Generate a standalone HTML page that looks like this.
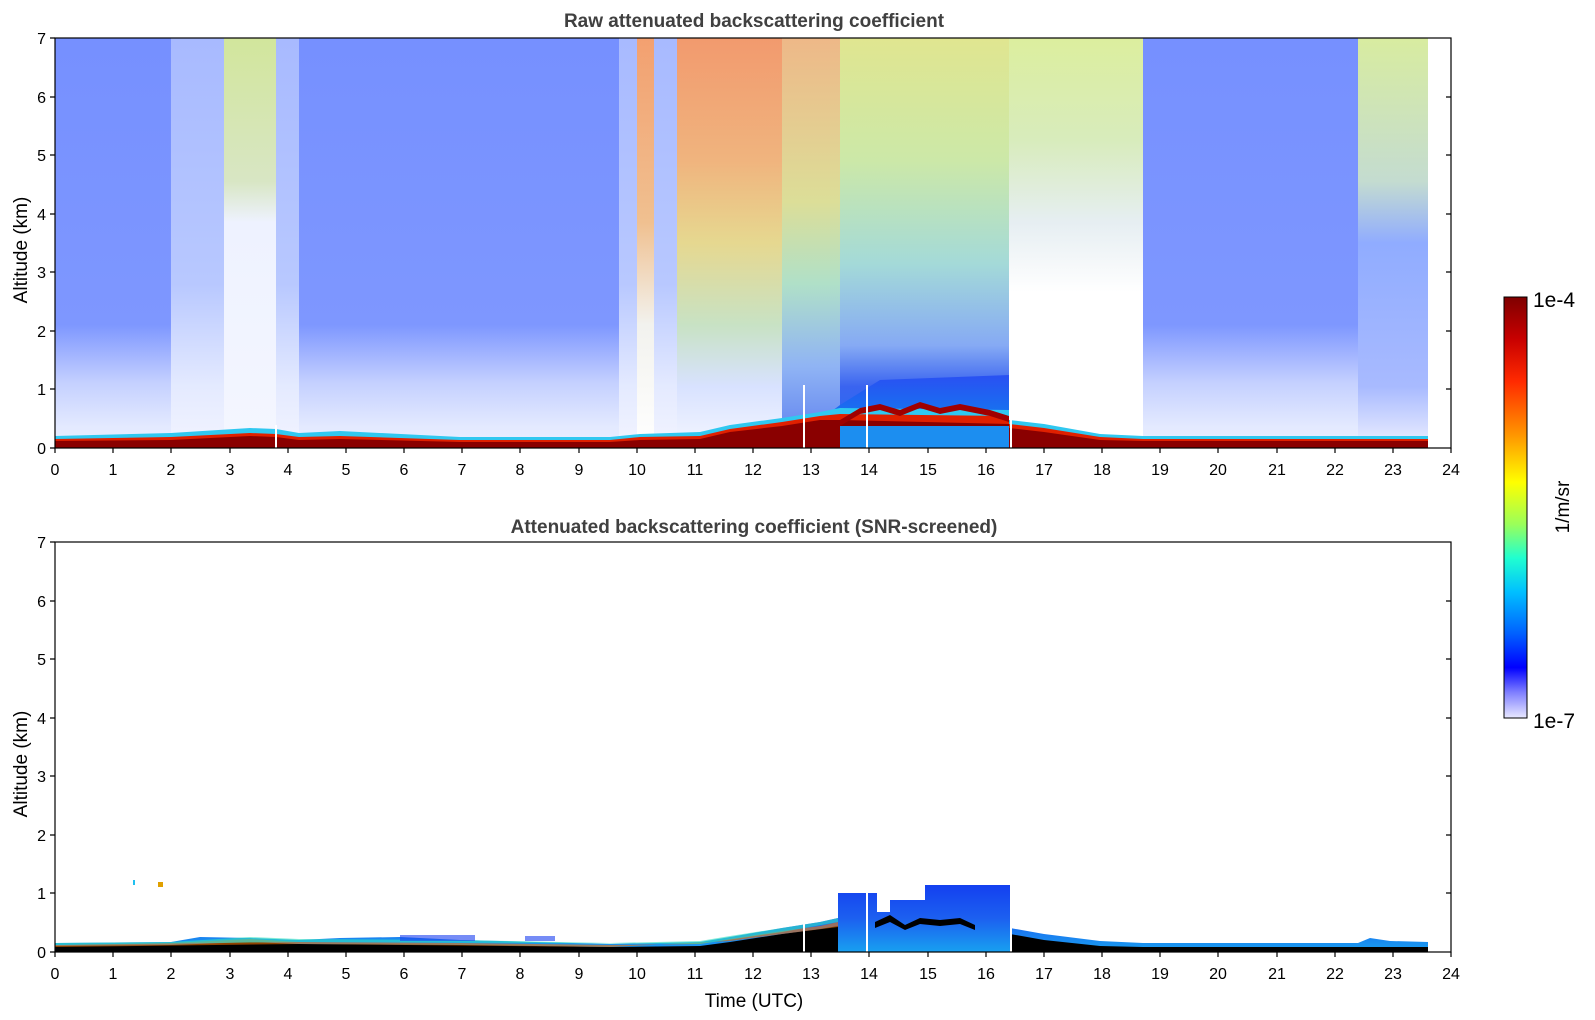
<!DOCTYPE html>
<html><head><meta charset="utf-8"><style>
html,body{margin:0;padding:0;background:#fff;}
svg{display:block;font-family:"Liberation Sans","DejaVu Sans",sans-serif;}
</style></head><body>
<svg width="1595" height="1020" viewBox="0 0 1595 1020" xmlns="http://www.w3.org/2000/svg">
<defs>
<linearGradient id="gBlue" x1="0" y1="0" x2="0" y2="1">
<stop offset="0" stop-color="#7690ff"/><stop offset="0.7" stop-color="#7e97ff"/><stop offset="0.84" stop-color="#c4d0ff"/><stop offset="0.95" stop-color="#e4eaff"/><stop offset="1" stop-color="#e8eeff"/></linearGradient>
<linearGradient id="gBlueL" x1="0" y1="0" x2="0" y2="1">
<stop offset="0" stop-color="#a8baff"/><stop offset="0.6" stop-color="#b8c8ff"/><stop offset="0.85" stop-color="#e4eaff"/><stop offset="1" stop-color="#f2f4ff"/></linearGradient>
<linearGradient id="g3" x1="0" y1="0" x2="0" y2="1">
<stop offset="0" stop-color="#d2e69c"/><stop offset="0.35" stop-color="#d8e6c4"/><stop offset="0.45" stop-color="#eef2ff"/><stop offset="1" stop-color="#f4f6ff"/></linearGradient>
<linearGradient id="gR1" x1="0" y1="0" x2="0" y2="1">
<stop offset="0" stop-color="#f3a070"/><stop offset="0.45" stop-color="#f0c090"/><stop offset="0.7" stop-color="#f2f2ee"/><stop offset="1" stop-color="#ffffff"/></linearGradient>
<linearGradient id="gRM" x1="0" y1="0" x2="0" y2="1">
<stop offset="0" stop-color="#f29a6e"/><stop offset="0.3" stop-color="#f0b47e"/><stop offset="0.5" stop-color="#e6d890"/><stop offset="0.7" stop-color="#c8e2c4"/><stop offset="0.85" stop-color="#d8e2ff"/><stop offset="1" stop-color="#f4f6ff"/></linearGradient>
<linearGradient id="gM2" x1="0" y1="0" x2="0" y2="1">
<stop offset="0" stop-color="#eeb888"/><stop offset="0.4" stop-color="#dcde98"/><stop offset="0.6" stop-color="#b0e0c8"/><stop offset="0.8" stop-color="#90b4f4"/><stop offset="1" stop-color="#5a7cf0"/></linearGradient>
<linearGradient id="gM3" x1="0" y1="0" x2="0" y2="1">
<stop offset="0" stop-color="#e0e690"/><stop offset="0.3" stop-color="#cce8a8"/><stop offset="0.55" stop-color="#a4dad8"/><stop offset="0.75" stop-color="#86aaf4"/><stop offset="0.85" stop-color="#3a64f0"/><stop offset="1" stop-color="#2070f0"/></linearGradient>
<linearGradient id="g17" x1="0" y1="0" x2="0" y2="1">
<stop offset="0" stop-color="#dcee9e"/><stop offset="0.25" stop-color="#d8ecbc"/><stop offset="0.45" stop-color="#e6eef2"/><stop offset="0.62" stop-color="#ffffff"/><stop offset="1" stop-color="#ffffff"/></linearGradient>
<linearGradient id="g22" x1="0" y1="0" x2="0" y2="1">
<stop offset="0" stop-color="#d8eca0"/><stop offset="0.35" stop-color="#c4dcd0"/><stop offset="0.5" stop-color="#90acff"/><stop offset="0.85" stop-color="#a8baff"/><stop offset="1" stop-color="#eef0ff"/></linearGradient>
<linearGradient id="gSolid" x1="0" y1="0" x2="0" y2="1">
<stop offset="0" stop-color="#2a50f2"/><stop offset="0.5" stop-color="#1870f0"/><stop offset="1" stop-color="#10a0f0"/></linearGradient>
<linearGradient id="gBlob" x1="0" y1="0" x2="0" y2="1">
<stop offset="0" stop-color="#1440f0"/><stop offset="0.5" stop-color="#1c60f0"/><stop offset="1" stop-color="#18a0f0"/></linearGradient>
<linearGradient id="gCb" x1="0" y1="0" x2="0" y2="1">
<stop offset="0" stop-color="#7f0000"/><stop offset="0.1" stop-color="#c80000"/><stop offset="0.2" stop-color="#ff2a00"/><stop offset="0.33" stop-color="#ff9800"/><stop offset="0.44" stop-color="#ffff00"/><stop offset="0.54" stop-color="#9aff5a"/><stop offset="0.62" stop-color="#20ffd0"/><stop offset="0.7" stop-color="#00c0ff"/><stop offset="0.8" stop-color="#0060ff"/><stop offset="0.88" stop-color="#0000ff"/><stop offset="0.94" stop-color="#8080ff"/><stop offset="1" stop-color="#e8e8ff"/></linearGradient>
</defs>

<!-- TOP PLOT -->
<g>
<rect x="55" y="38" width="116" height="410" fill="url(#gBlue)"/>
<rect x="171" y="38" width="53" height="410" fill="url(#gBlueL)"/>
<rect x="224" y="38" width="52" height="410" fill="url(#g3)"/>
<rect x="276" y="38" width="23" height="410" fill="url(#gBlueL)"/>
<rect x="299" y="38" width="320" height="410" fill="url(#gBlue)"/>
<rect x="619" y="38" width="18" height="410" fill="url(#gBlueL)"/>
<rect x="637" y="38" width="17" height="410" fill="url(#gR1)"/>
<rect x="654" y="38" width="23" height="410" fill="url(#gBlueL)"/>
<rect x="677" y="38" width="105" height="410" fill="url(#gRM)"/>
<rect x="782" y="38" width="58" height="410" fill="url(#gM2)"/>
<rect x="840" y="38" width="169" height="410" fill="url(#gM3)"/>
<rect x="1009" y="38" width="35" height="410" fill="url(#g17)"/>
<rect x="1044" y="38" width="99" height="410" fill="url(#g17)"/>
<rect x="1143" y="38" width="215" height="410" fill="url(#gBlue)"/>
<rect x="1358" y="38" width="70" height="410" fill="url(#g22)"/>
<polygon points="782,448 782,430 820,420 840,405 880,380 1009,375 1009,448" fill="url(#gSolid)"/>
<polygon points="55,436 171,433 250,428 276,429 299,433 340,431 460,437 610,437 640,434 700,432 730,425 782,418 820,412 840,408 1009,410 1009,420 1044,424 1100,434 1143,436 1428,436 1428,448 55,448" fill="#30c8f0"/>
<polygon points="55,439 171,437 250,433 276,434 299,437 340,436 460,440 610,440 640,437 700,436 730,429 782,422 820,416 840,414 1009,416 1009,424 1044,428 1100,437 1143,439 1428,439 1428,448 55,448" fill="#e02000"/>
<polygon points="55,441 171,440 250,436 276,437 299,440 340,439 460,442 610,442 640,440 700,439 730,432 782,426 820,420 840,420 1009,424 1009,428 1044,432 1100,440 1143,441 1428,441 1428,448 55,448" fill="#8a0000"/>
<polygon points="840,420 860,408 880,404 900,410 920,402 940,408 960,404 990,410 1009,416 1009,422 990,416 960,410 940,414 920,408 900,416 880,410 860,414 840,426" fill="#a00000"/>
<rect x="840" y="426" width="169" height="22" fill="#1c8ef0"/>
<rect x="803" y="385" width="2" height="63" fill="#fff"/>
<rect x="866" y="385" width="2" height="63" fill="#fff"/>
<rect x="275" y="425" width="2" height="23" fill="#fff"/>
<rect x="1010" y="400" width="2" height="48" fill="#fff"/>
</g>
<rect x="55" y="38" width="1396" height="410" fill="none" stroke="#000" stroke-width="1.2"/>

<!-- BOTTOM PLOT -->
<g>
<polygon points="55,943 171,942 200,937 250,938 299,940 340,938 400,937 460,940 500,941 610,944 700,942 730,937 782,928 820,922 838,918 838,893 862,893 877,893 877,912 890,912 890,900 925,900 925,885 1010,885 1010,928 1044,934 1100,941 1143,943 1358,943 1370,938 1390,941 1428,942 1428,952 55,952" fill="url(#gBlob)"/>
<polygon points="55,946 171,945 250,942 299,944 460,945 610,947 700,946 730,942 782,934 820,929 838,926 838,952 55,952" fill="#000"/>
<polygon points="1010,934 1044,940 1100,946 1143,947 1428,947 1428,952 1010,952" fill="#000"/>
<polygon points="55,945 171,943 250,939 299,942 460,943 610,945 700,944 730,939 782,931 820,926 838,922 838,927 782,934 730,941 610,947 299,944 55,947" fill="#f07000" opacity="0.6"/>
<polygon points="55,943 171,942 250,937 299,939 460,940 610,943 700,941 730,936 782,928 820,922 838,918 838,922 782,932 700,944 299,942 55,945" fill="#30e0c0" opacity="0.6"/>
<polygon points="875,922 890,915 905,925 920,918 940,920 960,918 975,925 975,930 960,924 940,926 920,924 905,930 890,922 875,928" fill="#000"/>
<rect x="400" y="935" width="75" height="6" fill="#1a40f0" opacity="0.6"/>
<rect x="525" y="936" width="30" height="5" fill="#1a40f0" opacity="0.6"/>
<rect x="803" y="900" width="2" height="52" fill="#fff"/>
<rect x="866" y="893" width="2" height="59" fill="#fff"/>
<rect x="1010" y="893" width="2" height="59" fill="#fff"/>
<rect x="133" y="880" width="2" height="5" fill="#20c0f0"/>
<rect x="158" y="882" width="5" height="5" fill="#e0a000"/>
</g>
<rect x="55" y="542" width="1396" height="410" fill="none" stroke="#000" stroke-width="1.2"/>

<g stroke="#000" stroke-width="1.2">
<path d="M55,448v5M113,448v5M171,448v5M230,448v5M288,448v5M346,448v5M404,448v5M462,448v5M520,448v5M579,448v5M637,448v5M695,448v5M753,448v5M811,448v5M869,448v5M928,448v5M986,448v5M1044,448v5M1102,448v5M1160,448v5M1218,448v5M1277,448v5M1335,448v5M1393,448v5M1451,448v5"/>
<path d="M55,952v5M113,952v5M171,952v5M230,952v5M288,952v5M346,952v5M404,952v5M462,952v5M520,952v5M579,952v5M637,952v5M695,952v5M753,952v5M811,952v5M869,952v5M928,952v5M986,952v5M1044,952v5M1102,952v5M1160,952v5M1218,952v5M1277,952v5M1335,952v5M1393,952v5M1451,952v5"/>
<path d="M55,448h-5M55,389h-5M55,331h-5M55,272h-5M55,214h-5M55,155h-5M55,97h-5M55,38h-5M1451,389h-5M1451,331h-5M1451,272h-5M1451,214h-5M1451,155h-5M1451,97h-5"/>
<path d="M55,952h-5M55,893h-5M55,835h-5M55,776h-5M55,718h-5M55,659h-5M55,601h-5M55,542h-5M1451,893h-5M1451,835h-5M1451,776h-5M1451,718h-5M1451,659h-5M1451,601h-5"/>
</g>
<g font-size="16" text-anchor="middle" fill="#000">
<text x="55" y="475">0</text><text x="113" y="475">1</text><text x="171" y="475">2</text><text x="230" y="475">3</text><text x="288" y="475">4</text><text x="346" y="475">5</text><text x="404" y="475">6</text><text x="462" y="475">7</text><text x="520" y="475">8</text><text x="579" y="475">9</text><text x="637" y="475">10</text><text x="695" y="475">11</text><text x="753" y="475">12</text><text x="811" y="475">13</text><text x="869" y="475">14</text><text x="928" y="475">15</text><text x="986" y="475">16</text><text x="1044" y="475">17</text><text x="1102" y="475">18</text><text x="1160" y="475">19</text><text x="1218" y="475">20</text><text x="1277" y="475">21</text><text x="1335" y="475">22</text><text x="1393" y="475">23</text><text x="1451" y="475">24</text>
<text x="55" y="979">0</text><text x="113" y="979">1</text><text x="171" y="979">2</text><text x="230" y="979">3</text><text x="288" y="979">4</text><text x="346" y="979">5</text><text x="404" y="979">6</text><text x="462" y="979">7</text><text x="520" y="979">8</text><text x="579" y="979">9</text><text x="637" y="979">10</text><text x="695" y="979">11</text><text x="753" y="979">12</text><text x="811" y="979">13</text><text x="869" y="979">14</text><text x="928" y="979">15</text><text x="986" y="979">16</text><text x="1044" y="979">17</text><text x="1102" y="979">18</text><text x="1160" y="979">19</text><text x="1218" y="979">20</text><text x="1277" y="979">21</text><text x="1335" y="979">22</text><text x="1393" y="979">23</text><text x="1451" y="979">24</text>
</g>
<g font-size="16" text-anchor="end" fill="#000">
<text x="46" y="454">0</text><text x="46" y="395">1</text><text x="46" y="337">2</text><text x="46" y="278">3</text><text x="46" y="220">4</text><text x="46" y="161">5</text><text x="46" y="103">6</text><text x="46" y="44">7</text>
<text x="46" y="958">0</text><text x="46" y="899">1</text><text x="46" y="841">2</text><text x="46" y="782">3</text><text x="46" y="724">4</text><text x="46" y="665">5</text><text x="46" y="607">6</text><text x="46" y="548">7</text>
</g>
<text x="754" y="27" font-size="19" font-weight="bold" fill="#404040" text-anchor="middle">Raw attenuated backscattering coefficient</text>
<text x="754" y="533" font-size="19" font-weight="bold" fill="#404040" text-anchor="middle">Attenuated backscattering coefficient (SNR-screened)</text>
<text x="754" y="1007" font-size="19" text-anchor="middle">Time (UTC)</text>
<text transform="translate(27,250) rotate(-90)" font-size="19" text-anchor="middle">Altitude (km)</text>
<text transform="translate(27,764) rotate(-90)" font-size="19" text-anchor="middle">Altitude (km)</text>

<rect x="1504" y="297" width="23" height="421" fill="url(#gCb)" stroke="#000" stroke-width="1"/>
<text x="1533" y="307" font-size="21">1e-4</text>
<text x="1533" y="728" font-size="21">1e-7</text>
<text transform="translate(1569,507) rotate(-90)" font-size="19" text-anchor="middle">1/m/sr</text>
</svg>
</body></html>
